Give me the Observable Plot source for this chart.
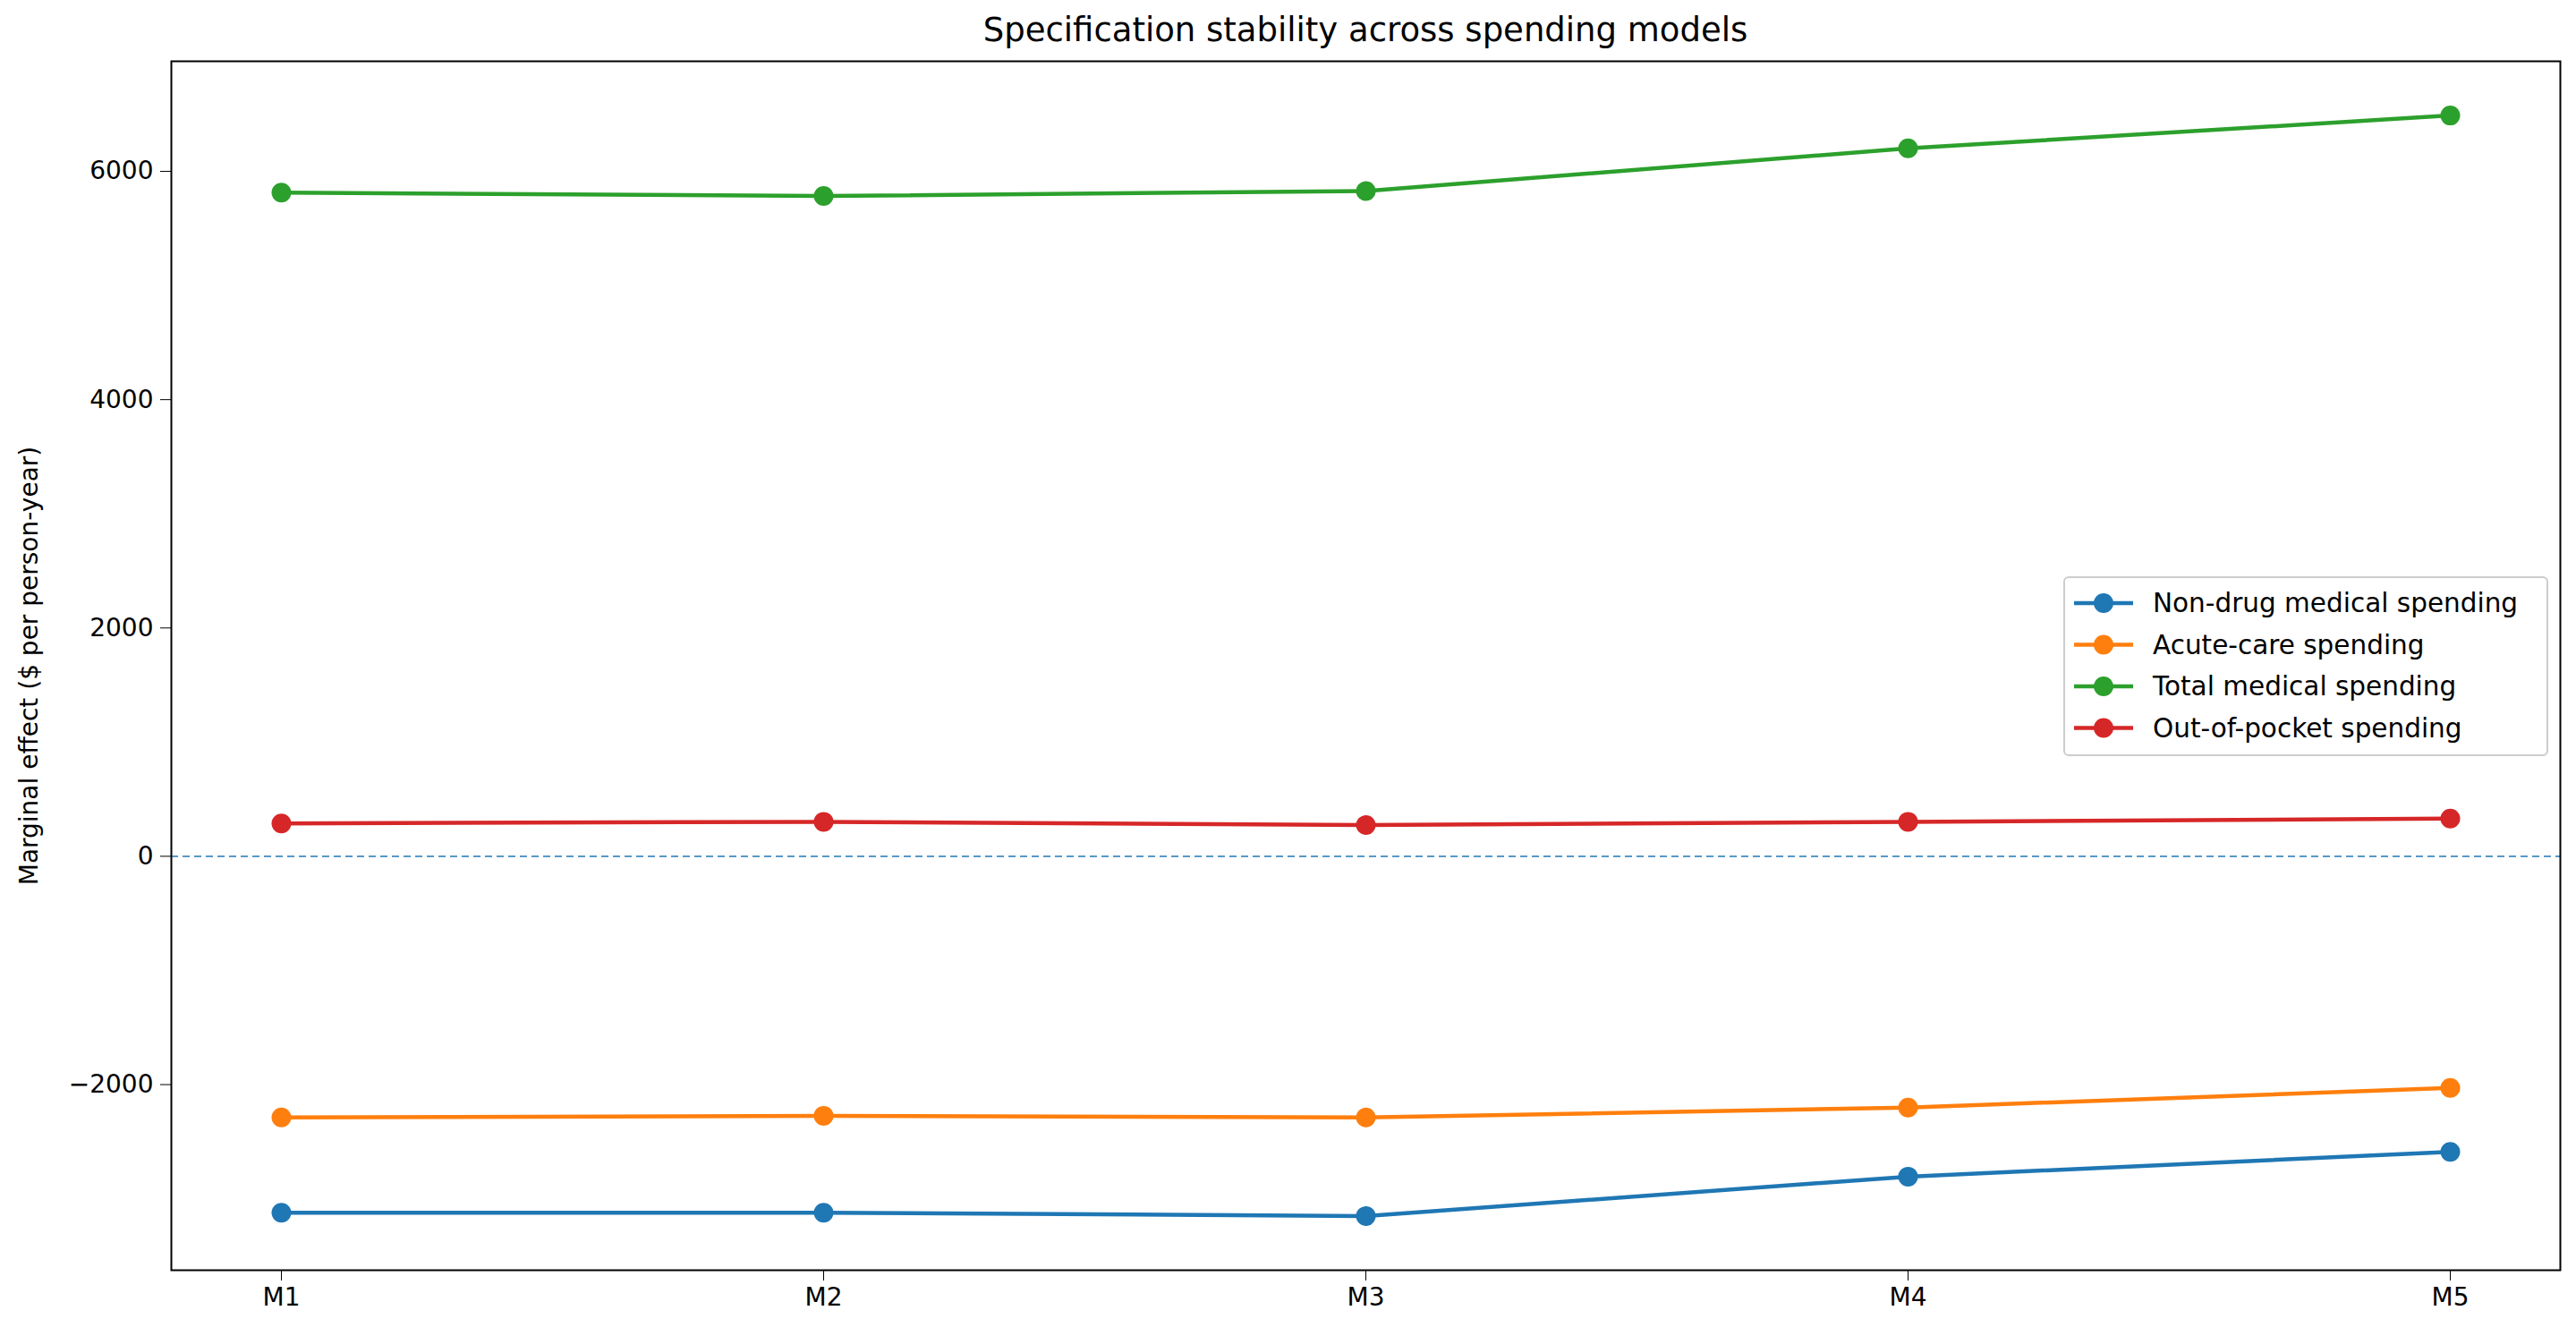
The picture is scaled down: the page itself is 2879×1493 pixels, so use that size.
<!DOCTYPE html>
<html><head><meta charset="utf-8">
<script src="https://cdn.jsdelivr.net/npm/d3@7"></script>
<script src="https://cdn.jsdelivr.net/npm/@observablehq/plot@0.6"></script>
<style>
body{margin:0;background:#fff;font-family:"DejaVu Sans",sans-serif;}
#wrap{position:relative;width:2879px;height:1493px;}
#title{position:absolute;left:191px;width:2670px;top:12px;text-align:center;font-size:37px;color:#000;}
#legend{position:absolute;left:2306px;top:644px;width:538px;height:197px;border:2px solid #ccc;border-radius:6px;background:rgba(255,255,255,0.85);}
</style></head>
<body><div id="wrap"><div id="title">Specification stability across spending models</div><div id="chart"></div><div id="legend"></div></div>
<script>
const models = ["M1","M2","M3","M4","M5"];
const seriesNames = ["Non-drug medical spending","Acute-care spending","Total medical spending","Out-of-pocket spending"];
const colors = ["#1f77b4","#ff7f0e","#2ca02c","#d62728"];
const nonDrug = [-3122,-3122,-3151,-2806,-2590];
const acute = [-2288,-2273,-2288,-2201,-2029];
const total = [5813,5784,5827,6201,6489];
const oop = [288,302,273,302,331];
const yTicks = [-2000,0,2000,4000,6000];

const allVals = [nonDrug,acute,total,oop];
const data = [];
seriesNames.forEach((s,i)=>models.forEach((m,j)=>data.push({series:s,model:m,value:allVals[i][j]})));

const chart = Plot.plot({
  width:2879, height:1493,
  marginLeft:191, marginRight:18, marginTop:68, marginBottom:74,
  style:{fontFamily:"DejaVu Sans, sans-serif", fontSize:"28px", color:"#000", background:"#fff"},
  x:{type:"point", domain:models, padding:0.2, label:null},
  y:{domain:[-3626,6964], label:null},
  color:{domain:seriesNames, range:colors},
  marks:[
    Plot.ruleY([0],{stroke:"#1f77b4",strokeOpacity:0.75,strokeWidth:2,strokeDasharray:"8,5"}),
    Plot.line(data,{x:"model",y:"value",z:"series",stroke:"series",strokeWidth:4.5}),
    Plot.dot(data,{x:"model",y:"value",fill:"series",r:11}),
    Plot.axisX({tickSize:12,fontSize:28,tickPadding:8,label:null}),
    Plot.axisY({ticks:yTicks,tickSize:12,fontSize:28,tickPadding:8,tickFormat:d=>d<0?"\u2212"+Math.abs(d):String(d),label:null}),
    Plot.text(["Marginal effect ($ per person-year)"],{frameAnchor:"left",dx:-158,rotate:-90,textAnchor:"middle",fontSize:28,fill:"#000"}),
    Plot.frame({stroke:"#000",strokeWidth:2})
  ]
});
document.getElementById("chart").appendChild(chart);

const lg = d3.select("#legend").append("svg").attr("width",538).attr("height",197);
seriesNames.forEach((s,i)=>{
  const y = 28 + i*46.5;
  lg.append("line").attr("x1",10).attr("x2",76).attr("y1",y).attr("y2",y).attr("stroke",colors[i]).attr("stroke-width",4.5);
  lg.append("circle").attr("cx",43).attr("cy",y).attr("r",11).attr("fill",colors[i]);
  lg.append("text").attr("x",98).attr("y",y).attr("dy","0.35em").attr("font-size",29.5).attr("font-family","DejaVu Sans, sans-serif").text(s);
});
</script></body></html>
